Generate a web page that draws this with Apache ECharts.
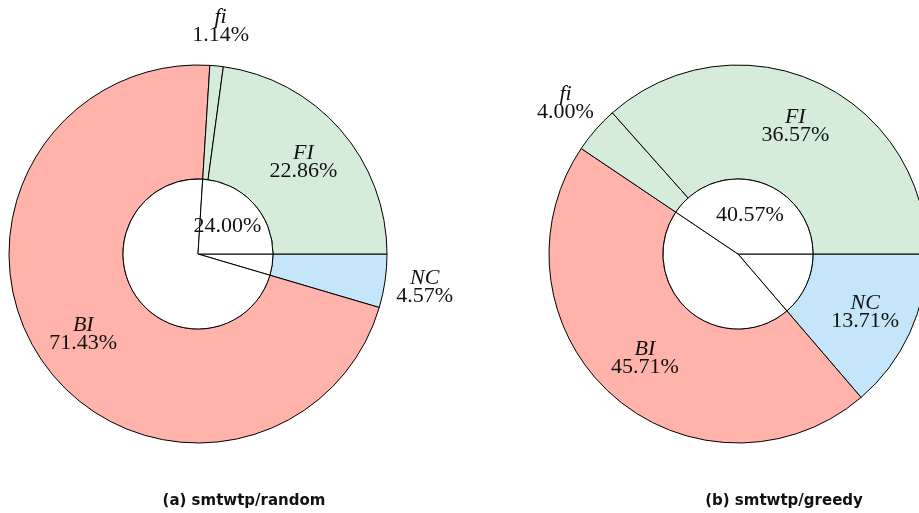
<!DOCTYPE html>
<html>
<head>
<meta charset="utf-8">
<script src="https://cdn.jsdelivr.net/npm/echarts@6/dist/echarts.min.js"></script>
<style>
html,body{margin:0;padding:0;background:#fff;}
#chart{width:919px;height:513px;}
</style>
</head>
<body>
<div id="chart"></div>
<script>
// Slice order (clockwise from 3 o'clock)
const categories = ['NC', 'BI', 'fi', 'FI'];
const randomValues = [4.57, 71.43, 1.14, 22.86];
const greedyValues = [13.71, 45.71, 4.00, 36.57];
// Inner ring: NC, BI, and FI+fi combined
const innerCategories = ['NC', 'BI', 'FI+fi'];
const randomInner = [4.57, 71.43, 24.00];
const greedyInner = [13.71, 45.71, 40.57];
// Which slices are labelled outside the ring
const randomOutside = ['NC', 'fi'];
const greedyOutside = ['fi'];
const captions = ['(a) smtwtp/random', '(b) smtwtp/greedy'];

const colors = { NC: '#c5e5fa', BI: '#ffb3aa', fi: '#d5ecda', FI: '#d5ecda' };
const serif = 'Liberation Serif';
const rich = {
  n: { fontFamily: serif, fontStyle: 'italic', fontSize: 22, color: '#111', lineHeight: 18 },
  v: { fontFamily: serif, fontSize: 22, color: '#111', lineHeight: 18 }
};
function fmt(p) {
  return '{n|' + p.name + '}\n{v|' + p.value.toFixed(2) + '%}';
}

function labelSeries(cx, cy, radius, values, showFn) {
  return {
    type: 'pie', center: [cx, cy], radius: radius, startAngle: 0, clockwise: true,
    silent: true, animation: false, z: 5,
    itemStyle: { color: 'rgba(0,0,0,0)', borderWidth: 0 },
    labelLine: { show: false },
    data: categories.map((c, i) => ({
      name: c, value: values[i],
      label: { show: showFn(c), position: 'inside', formatter: fmt, rich: rich }
    }))
  };
}

function buildPie(cx, values, inner, outside) {
  const cy = 254, r0 = 75, r1 = 189;
  const outer = {
    type: 'pie', center: [cx, cy], radius: [r0, r1], startAngle: 0, clockwise: true,
    silent: true, animation: false,
    itemStyle: { borderColor: '#000', borderWidth: 1 },
    label: { show: false },
    labelLine: { show: false },
    data: categories.map((c, i) => ({
      name: c, value: values[i],
      itemStyle: { color: colors[c] }
    }))
  };
  const inLab = labelSeries(cx, cy, [85, r1], values, c => outside.indexOf(c) < 0);
  const outLab = labelSeries(cx, cy, [r1, 263], values, c => outside.indexOf(c) >= 0);
  const inn = {
    type: 'pie', center: [cx, cy], radius: [0, r0], startAngle: 0, clockwise: true,
    silent: true, animation: false,
    itemStyle: { color: '#fff', borderColor: '#000', borderWidth: 1 },
    labelLine: { show: false },
    data: innerCategories.map((c, i) => ({
      name: c, value: inner[i],
      label: {
        show: i === innerCategories.length - 1, position: 'inside',
        formatter: (p) => p.value.toFixed(2) + '%',
        fontFamily: serif, fontSize: 22, color: '#111'
      }
    }))
  };
  return [outer, inn, inLab, outLab];
}

const chart = echarts.init(document.getElementById('chart'), null, { renderer: 'canvas' });
chart.setOption({
  backgroundColor: '#fff',
  animation: false,
  title: [
    { text: captions[0], left: 239, top: 489, textAlign: 'center',
      textStyle: { fontFamily: 'DejaVu Sans', fontWeight: 'bold', fontSize: 15, color: '#111' } },
    { text: captions[1], left: 779, top: 489, textAlign: 'center',
      textStyle: { fontFamily: 'DejaVu Sans', fontWeight: 'bold', fontSize: 15, color: '#111' } }
  ],
  series: [].concat(
    buildPie(198, randomValues, randomInner, randomOutside),
    buildPie(738, greedyValues, greedyInner, greedyOutside)
  )
});
</script>
</body>
</html>
